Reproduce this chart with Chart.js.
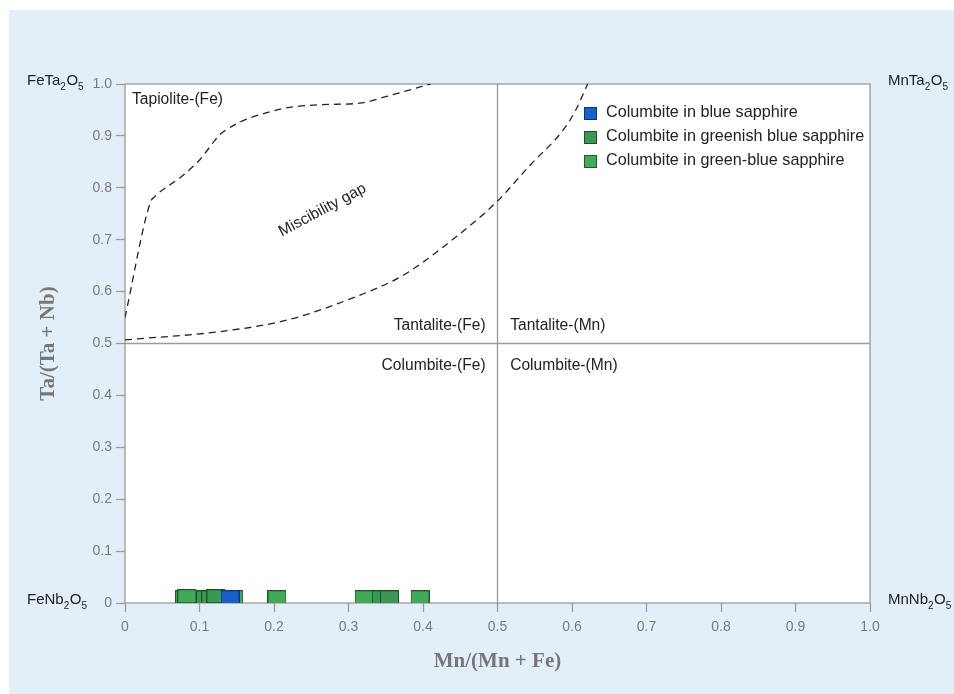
<!DOCTYPE html>
<html>
<head>
<meta charset="utf-8">
<script src="https://cdn.jsdelivr.net/npm/chart.js@4.4.1/dist/chart.umd.min.js"></script>
<style>
    body { margin: 0; background: #ffffff; }
    canvas { display: block; }
</style>
</head>
<body>
<canvas id="graficoColumbite" width="954" height="694"></canvas>
<script>
// tick values and labels (same on both axes)
const tickValues = [0, 0.1, 0.2, 0.3, 0.4, 0.5, 0.6, 0.7, 0.8, 0.9, 1.0];
const tickLabels = ['0', '0.1', '0.2', '0.3', '0.4', '0.5', '0.6', '0.7', '0.8', '0.9', '1.0'];

// columbite analyses, Mn/(Mn+Fe) vs Ta/(Ta+Nb)
const blueX = [0.141];
const blueY = [0.011];
const greenishX = [0.108, 0.115, 0.122, 0.344, 0.355];
const greenishY = [0.011, 0.011, 0.013, 0.011, 0.011];
const greenX = [0.080, 0.083, 0.146, 0.204, 0.321, 0.396];
const greenY = [0.011, 0.013, 0.011, 0.011, 0.011, 0.011];

// miscibility gap boundaries (dashed)
const upperX = [0, 0.034, 0.040, 0.076, 0.101, 0.121, 0.132, 0.204, 0.262, 0.315, 0.351, 0.410];
const upperY = [0.550, 0.772, 0.783, 0.822, 0.855, 0.892, 0.908, 0.950, 0.960, 0.963, 0.976, 1.000];
const lowerX = [0, 0.128, 0.217, 0.306, 0.374, 0.436, 0.499, 0.544, 0.588, 0.604, 0.621];
const lowerY = [0.507, 0.523, 0.545, 0.588, 0.632, 0.696, 0.773, 0.844, 0.911, 0.947, 1.000];

// field dividers
const dividerVX = [0.5, 0.5];
const dividerVY = [0, 1];
const dividerHX = [0, 1];
const dividerHY = [0.5, 0.5];

const seriesNames = ['Columbite in blue sapphire', 'Columbite in greenish blue sapphire', 'Columbite in green-blue sapphire'];
const seriesFill = ['#1561c9', '#3a9754', '#41a957'];
const seriesBorder = ['#0c3670', '#1d4f2a', '#1f5a2c'];

const sansFont = '"Liberation Sans", Arial, Helvetica, sans-serif';

function pts(xs, ys) {
    return xs.map(function (x, i) { return { x: x, y: ys[i] }; });
}

// rectangular marker (a bit wider than tall, like the original)
function makeMarker(fill, stroke) {
    const c = document.createElement('canvas');
    c.width = 19;
    c.height = 14;
    const g = c.getContext('2d');
    g.fillStyle = fill;
    g.fillRect(0, 0, 19, 14);
    g.strokeStyle = stroke;
    g.lineWidth = 1;
    g.strokeRect(0.5, 0.5, 18, 13);
    return c;
}

function drawFormula(ctx, parts, x, y) {
    let cx = x;
    parts.forEach(function (p) {
        const sub = p[1];
        ctx.font = (sub ? '10px ' : '15px ') + sansFont;
        ctx.fillText(p[0], cx, sub ? y + 5 : y);
        cx += ctx.measureText(p[0]).width + (sub ? 0.5 : 0);
    });
}

const decorPlugin = {
    id: 'decor',
    beforeDraw: function (chart) {
        const ctx = chart.ctx;
        const a = chart.chartArea;
        ctx.save();
        ctx.fillStyle = '#ffffff';
        ctx.fillRect(0, 0, chart.width, chart.height);
        ctx.fillStyle = '#e2eff9';
        ctx.fillRect(9, 10, chart.width - 9, chart.height - 10);
        ctx.fillStyle = '#ffffff';
        ctx.fillRect(a.left, a.top, a.right - a.left, a.bottom - a.top);
        ctx.restore();
    },
    beforeDatasetsDraw: function (chart) {
        const ctx = chart.ctx;
        const a = chart.chartArea;
        ctx.save();
        ctx.strokeStyle = '#9a9a9a';
        ctx.lineWidth = 1.3;
        ctx.strokeRect(a.left, a.top, a.right - a.left, a.bottom - a.top);
        ctx.restore();
    },
    afterDraw: function (chart) {
        const ctx = chart.ctx;
        const a = chart.chartArea;
        const xs = chart.scales.x;
        const ys = chart.scales.y;
        ctx.save();
        ctx.fillStyle = '#222222';
        ctx.font = '15.6px ' + sansFont;
        ctx.textBaseline = 'middle';

        ctx.textAlign = 'left';
        ctx.fillText('Tapiolite-(Fe)', xs.getPixelForValue(0.0094), ys.getPixelForValue(0.969));
        ctx.textAlign = 'right';
        ctx.fillText('Tantalite-(Fe)', xs.getPixelForValue(0.484), ys.getPixelForValue(0.534));
        ctx.fillText('Columbite-(Fe)', xs.getPixelForValue(0.484), ys.getPixelForValue(0.457));
        ctx.textAlign = 'left';
        ctx.fillText('Tantalite-(Mn)', xs.getPixelForValue(0.517), ys.getPixelForValue(0.534));
        ctx.fillText('Columbite-(Mn)', xs.getPixelForValue(0.517), ys.getPixelForValue(0.457));

        // rotated label
        ctx.save();
        ctx.translate(xs.getPixelForValue(0.265), ys.getPixelForValue(0.757));
        ctx.rotate(-28 * Math.PI / 180);
        ctx.textAlign = 'center';
        ctx.font = '15.5px ' + sansFont;
        ctx.fillText('Miscibility gap', 0, 0);
        ctx.restore();

        // end-member formulas at the corners
        ctx.textAlign = 'left';
        ctx.textBaseline = 'alphabetic';
        drawFormula(ctx, [['FeTa', false], ['2', true], ['O', false], ['5', true]], a.left - 98, a.top + 1);
        drawFormula(ctx, [['MnTa', false], ['2', true], ['O', false], ['5', true]], a.right + 18, a.top + 1);
        drawFormula(ctx, [['FeNb', false], ['2', true], ['O', false], ['5', true]], a.left - 98, a.bottom + 1);
        drawFormula(ctx, [['MnNb', false], ['2', true], ['O', false], ['5', true]], a.right + 18, a.bottom + 1);

        // legend
        const lx = a.left + 459;
        ctx.font = '16.2px ' + sansFont;
        ctx.textBaseline = 'middle';
        seriesNames.forEach(function (name, i) {
            const cy = a.top + 29 + i * 24;
            ctx.fillStyle = seriesFill[i];
            ctx.fillRect(lx, cy - 6, 13, 13);
            ctx.strokeStyle = seriesBorder[i];
            ctx.lineWidth = 1;
            ctx.strokeRect(lx + 0.5, cy - 5.5, 12, 12);
            ctx.fillStyle = '#222222';
            ctx.fillText(name, lx + 22, cy);
        });
        ctx.restore();
    }
};

function axisOptions(titleText, isX) {
    return {
        type: 'linear',
        min: 0,
        max: 1,
        afterBuildTicks: function (scale) {
            scale.ticks = tickValues.map(function (v) { return { value: v }; });
        },
        afterFit: function (scale) {
            if (isX) { scale.height = 91; } else { scale.width = 125; }
        },
        ticks: {
            autoSkip: false,
            maxRotation: 0,
            color: '#7a7a7a',
            padding: isX ? 7 : 4,
            font: { family: sansFont, size: 14 },
            callback: function (value, index) { return tickLabels[index]; }
        },
        grid: {
            drawOnChartArea: false,
            drawTicks: true,
            tickLength: 9,
            tickColor: '#9a9a9a',
            tickWidth: 1.3
        },
        border: { display: false },
        title: {
            display: true,
            text: titleText,
            color: '#777777',
            font: { family: '"Liberation Serif", "Times New Roman", serif', size: 21, weight: 'bold' },
            padding: isX ? { top: 0, bottom: 20 } : { top: 36, bottom: 0 }
        }
    };
}

function dashedCurve(name, xs, ys) {
    return {
        label: name,
        data: pts(xs, ys),
        showLine: true,
        borderColor: '#222222',
        borderWidth: 1.3,
        borderDash: [7, 5],
        pointRadius: 0,
        cubicInterpolationMode: 'monotone',
        order: 3
    };
}

function dividerLine(name, xs, ys) {
    return {
        label: name,
        data: pts(xs, ys),
        showLine: true,
        borderColor: '#9a9a9a',
        borderWidth: 1.3,
        pointRadius: 0,
        order: 4
    };
}

const ctx = document.getElementById('graficoColumbite').getContext('2d');

new Chart(ctx, {
    type: 'scatter',
    data: {
        datasets: [
            {
                label: seriesNames[0],
                data: pts(blueX, blueY),
                pointStyle: makeMarker(seriesFill[0], seriesBorder[0]),
                order: 0
            },
            {
                label: seriesNames[1],
                data: pts(greenishX, greenishY),
                pointStyle: makeMarker(seriesFill[1], seriesBorder[1]),
                order: 1
            },
            {
                label: seriesNames[2],
                data: pts(greenX, greenY),
                pointStyle: makeMarker(seriesFill[2], seriesBorder[2]),
                order: 2
            },
            dashedCurve('upper', upperX, upperY),
            dashedCurve('lower', lowerX, lowerY),
            dividerLine('dividerV', dividerVX, dividerVY),
            dividerLine('dividerH', dividerHX, dividerHY)
        ]
    },
    options: {
        responsive: false,
        animation: false,
        devicePixelRatio: 1,
        layout: { padding: { top: 84, right: 84, left: 0, bottom: 0 } },
        plugins: {
            legend: { display: false },
            tooltip: { enabled: false }
        },
        scales: {
            x: axisOptions('Mn/(Mn + Fe)', true),
            y: axisOptions('Ta/(Ta + Nb)', false)
        }
    },
    plugins: [decorPlugin]
});
</script>
</body>
</html>
